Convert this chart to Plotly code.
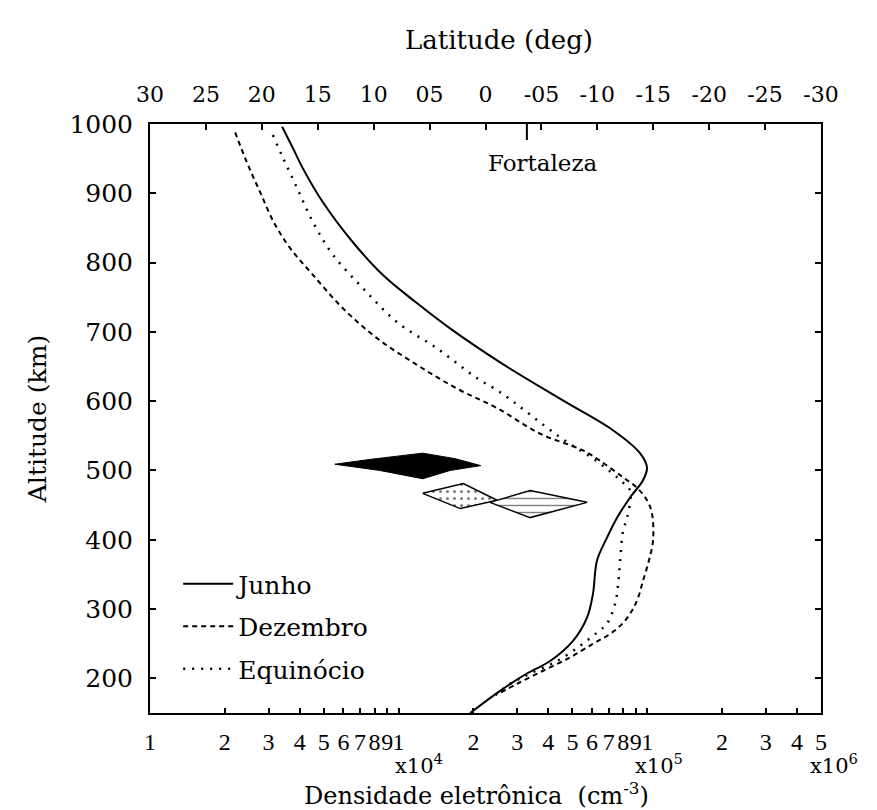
import plotly.graph_objects as go
import numpy as np

# ---------------- data ----------------
# Junho (solid)
junho_alt = [996, 965, 936, 887, 829, 782, 743, 705, 656, 601, 558, 525, 504, 486, 461, 432, 403,
             370, 322, 288, 254, 225, 207, 182, 150]
junho_ne = [3400, 3760, 4120, 4960, 6560, 8650, 11700, 16100, 25600, 45800, 72800, 93500, 99800,
            96200, 85300, 75700, 68900, 62800, 60500, 57300, 50300, 40700, 32800, 25600, 19400]

# Dezembro (dashed)
dez_alt = [988, 945, 902, 858, 821, 782, 734, 691, 652, 618, 590, 553, 529, 514, 490, 475, 457, 438,
           399, 370, 341, 316, 298, 280, 264, 250, 230, 211, 192, 179]
dez_ne = [2200, 2450, 2770, 3150, 3660, 4530, 5970, 8180, 11900, 17200, 24900, 37100, 55200, 64600,
          80000, 91000, 99800, 104500, 105500, 101600, 96200, 91800, 86900, 80000, 70800, 60500,
          48900, 38100, 29900, 25600]

# Equinócio (dotted)
equi_alt = [984, 951, 908, 858, 811, 763, 714, 676, 633, 613, 548, 510, 486, 471, 432, 413, 370, 337,
            308, 279, 266, 247, 225, 207, 192, 176]
equi_ne = [3120, 3430, 3900, 4530, 5450, 7190, 9860, 14300, 20700, 25600, 44600, 64600, 77800, 85300,
           83000, 80000, 77800, 76400, 74300, 68900, 62800, 53700, 43400, 33800, 28100, 24500]

# Diamond-shaped regions
black_ne = [5540, 7680, 12500, 16900, 21400, 16100, 12500, 8410, 5540]
black_alt = [509, 516, 525, 517, 507, 500, 488, 500, 509]
dot_ne = [12500, 18200, 24900, 17700, 12500]
dot_alt = [467, 481, 457, 445, 467]
dash_ne = [23300, 33800, 57300, 33800, 23300]
dash_alt = [454, 471, 454, 432, 454]

# axis ticks
alt_ticks = [200, 300, 400, 500, 600, 700, 800, 900, 1000]
dens_tickvals = [1e3, 2e3, 3e3, 4e3, 5e3, 6e3, 7e3, 8e3, 9e3,
                 1e4, 2e4, 3e4, 4e4, 5e4, 6e4, 7e4, 8e4, 9e4,
                 1e5, 2e5, 3e5, 4e5, 5e5]
dens_ticktext = ["1", "2", "3", "4", "5", "6", "7", "8", "9",
                 "1", "2", "3", "4", "5", "6", "7", "8", "9",
                 "1", "2", "3", "4", "5"]
lat_tickvals = [30, 25, 20, 15, 10, 5, 0, -5, -10, -15, -20, -25, -30]
lat_ticktext = ["30", "25", "20", "15", "10", "05", "0", "-05", "-10", "-15", "-20", "-25", "-30"]
fortaleza_lat = -3.7

FONT = "DejaVu Serif"

fig = go.Figure()

fig.add_trace(go.Scatter(x=black_ne, y=black_alt, mode="lines", fill="toself",
                         fillcolor="black", line=dict(color="black", width=1),
                         showlegend=False, hoverinfo="skip"))
fig.add_trace(go.Scatter(x=dot_ne, y=dot_alt, mode="lines", fill="toself",
                         fillcolor="white",
                         fillpattern=dict(shape=".", fgcolor="black", bgcolor="white", size=7, solidity=0.15),
                         line=dict(color="black", width=1.5),
                         showlegend=False, hoverinfo="skip"))
fig.add_trace(go.Scatter(x=dash_ne, y=dash_alt, mode="lines", fill="toself",
                         fillcolor="white",
                         fillpattern=dict(shape="-", fgcolor="black", bgcolor="white", size=7, solidity=0.2),
                         line=dict(color="black", width=1.5),
                         showlegend=False, hoverinfo="skip"))

fig.add_trace(go.Scatter(x=junho_ne, y=junho_alt, mode="lines", name="Junho",
                         legendgroup="a", line=dict(color="black", width=2, shape="spline", smoothing=1.0)))
fig.add_trace(go.Scatter(x=dez_ne, y=dez_alt, mode="lines", name="Dezembro",
                         legendgroup="b", line=dict(color="black", width=2, dash="5px,4px", shape="spline")))
fig.add_trace(go.Scatter(x=equi_ne, y=equi_alt, mode="lines", name="Equinócio",
                         legendgroup="c", line=dict(color="black", width=2.5, dash="2px,7px", shape="spline")))

# invisible trace to activate top latitude axis
fig.add_trace(go.Scatter(x=[30, -30], y=[None, None], xaxis="x2", mode="lines",
                         showlegend=False, hoverinfo="skip"))

fig.update_layout(
    width=877, height=810,
    margin=dict(l=150, r=56, t=124, b=97),
    paper_bgcolor="white", plot_bgcolor="white",
    font=dict(family=FONT, size=24, color="black"),
    xaxis=dict(type="log", range=[3, np.log10(5e5)], tickvals=dens_tickvals, ticktext=dens_ticktext,
               tickangle=0, ticks="inside", ticklen=5, tickwidth=1.5, tickcolor="black",
               showline=True, linecolor="black", linewidth=2, showgrid=False, zeroline=False,
               tickfont=dict(family="Liberation Serif", size=24), ticklabelstandoff=6),
    xaxis2=dict(overlaying="x", side="top", range=[30, -30], tickvals=lat_tickvals, ticktext=lat_ticktext,
                tickangle=0, ticks="inside", ticklen=6, tickwidth=1.5, tickcolor="black",
                showline=True, linecolor="black", linewidth=2, showgrid=False, zeroline=False,
                tickfont=dict(size=22), ticklabelstandoff=11),
    yaxis=dict(range=[150, 1000], tickvals=alt_ticks, ticks="inside", ticklen=6, tickwidth=1.5,
               tickcolor="black", showline=True, linecolor="black", linewidth=2, mirror="ticks",
               showgrid=False, zeroline=False, tickfont=dict(size=25), ticklabelstandoff=10,
               title=dict(text="Altitude (km)", font=dict(size=25), standoff=16)),
    legend=dict(x=0.042, y=0.258, xanchor="left", yanchor="top", bgcolor="rgba(0,0,0,0)",
                font=dict(size=25), tracegroupgap=7, itemwidth=50),
)

# Fortaleza marker
fig.add_shape(type="line", xref="x2", yref="y", x0=fortaleza_lat, x1=fortaleza_lat, y0=1000, y1=977,
              line=dict(color="black", width=2))
fig.add_annotation(xref="x2", yref="y", x=fortaleza_lat - 1.4, y=944, text="Fortaleza", showarrow=False,
                   font=dict(size=23), xanchor="center", yanchor="middle")

# titles placed as annotations
fig.add_annotation(xref="paper", yref="paper", x=0.52, y=1.143, text="Latitude (deg)", showarrow=False,
                   font=dict(size=26), xanchor="center", yanchor="middle")
fig.add_annotation(xref="paper", yref="paper", x=0.486, y=-0.137,
                   text="Densidade eletrônica  (cm<sup>-3</sup>)",
                   showarrow=False, font=dict(size=24), xanchor="center", yanchor="middle")

# exponent labels under the density axis
for val, txt, xs in [(1e4, "x10<sup>4</sup>", -6), (1e5, "x10<sup>5</sup>", -14), (5e5, "x10<sup>6</sup>", -13)]:
    fig.add_annotation(xref="x", yref="paper", x=np.log10(val), y=-0.086, text=txt, showarrow=False,
                       font=dict(size=21), xanchor="left", yanchor="middle", xshift=xs)

fig.write_html("out.html")
